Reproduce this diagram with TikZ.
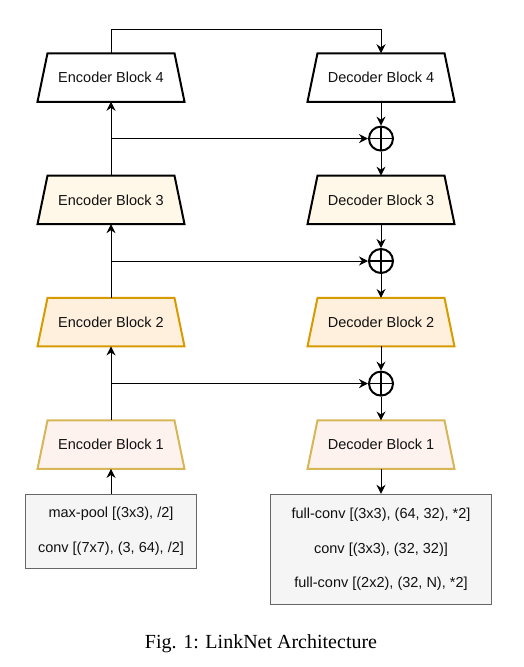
\documentclass[tikz,border=0pt]{standalone}
\usepackage{fontspec}
\setmainfont{Liberation Serif}
\newfontfamily\arialf{Liberation Sans}
\usetikzlibrary{arrows.meta}
\pgfdeclarelayer{background}
\pgfsetlayers{background,main}
\definecolor{fillthree}{HTML}{FFF8E8}
\definecolor{filltwo}{HTML}{FFF0DE}
\definecolor{drawtwo}{HTML}{D79B00}
\definecolor{fillone}{HTML}{FDF2EE}
\definecolor{drawone}{HTML}{D6B656}
\definecolor{boxfill}{HTML}{F5F5F5}
\definecolor{boxdraw}{HTML}{666666}
\definecolor{txt}{HTML}{111111}
\begin{document}
\begin{tikzpicture}[x=1pt,y=-1pt,
  blk/.style={rectangle, minimum width=125pt, minimum height=46.5pt,
    inner sep=0pt, outer sep=1pt, text=txt,
    font=\arialf\fontsize{14.5}{17}\selectfont},
  trapline/.style={line width=2pt, line join=miter},
  plusnode/.style={circle, draw, line width=2pt, minimum size=24pt, inner sep=0pt,
    path picture={\draw[line width=1.6pt]
      (path picture bounding box.north) -- (path picture bounding box.south)
      (path picture bounding box.west) -- (path picture bounding box.east);}},
  infobox/.style={draw=boxdraw, fill=boxfill, line width=1pt, align=center,
    inner sep=0pt, text=txt, font=\arialf\fontsize{14.5}{34.8}\selectfont},
  conn/.style={line width=1pt, -{Stealth[length=9pt,width=9pt,inset=3pt]}}
]
\useasboundingbox (0,0) rectangle (524,667);

% encoder
\node[blk] (e1) at (111,444.7) {Encoder Block 1};
\node[blk] (e2) at (111,322.2) {Encoder Block 2};
\node[blk] (e3) at (111,199.9) {Encoder Block 3};
\node[blk] (e4) at (111,77.5) {Encoder Block 4};

% decoder
\node[blk] (d1) at (381,444.7) {Decoder Block 1};
\node[blk] (d2) at (381,322.2) {Decoder Block 2};
\node[blk] (d3) at (381,199.9) {Decoder Block 3};
\node[blk] (d4) at (381,77.5) {Decoder Block 4};

% trapezoid outlines behind the labels
\begin{pgfonlayer}{background}
\foreach \n/\f/\d in {e1/fillone/drawone, e2/filltwo/drawtwo, e3/fillthree/black, e4/white/black,
                      d1/fillone/drawone, d2/filltwo/drawtwo, d3/fillthree/black, d4/white/black}{
  \draw[trapline, fill=\f, draw=\d] ([xshift=-10pt]\n.south west) -- (\n.north west)
    -- (\n.north east) -- ([xshift=10pt]\n.south east) -- cycle;
}
\end{pgfonlayer}

% adders
\node[plusnode] (p1) at (381,383.6) {};
\node[plusnode] (p2) at (381,261) {};
\node[plusnode] (p3) at (381,138.6) {};

% boxes
\node[infobox, minimum width=171pt, minimum height=74pt] (inb) at (111,531.3)
  {max-pool [(3x3), /2]\\conv [(7x7), (3, 64), /2]};
\node[infobox, minimum width=220.4pt, minimum height=110pt] (outb) at (381,549.3)
  {full-conv [(3x3), (64, 32), *2]\\conv [(3x3), (32, 32)]\\full-conv [(2x2), (32, N), *2]};

% caption
\node[font=\fontsize{20}{22}\selectfont] (cap) at (261,643.5) {Fig. 1: LinkNet Architecture};

% encoder path
\draw[conn] (inb) -- (e1);
\draw[conn] (e1) -- (e2);
\draw[conn] (e2) -- (e3);
\draw[conn] (e3) -- (e4);

% skip connections
\coordinate (b1) at (e1.north |- p1);
\coordinate (b2) at (e2.north |- p2);
\coordinate (b3) at (e3.north |- p3);
\draw[conn] (b1) -- (p1);
\draw[conn] (b2) -- (p2);
\draw[conn] (b3) -- (p3);

% top link
\coordinate (tl) at (111,29.3);
\coordinate (tr) at (381,29.3);
\draw[conn] (e4.north) -- (tl) -- (tr) -- (d4.north);

% decoder path
\draw[conn] (d4) -- (p3);
\draw[conn] (p3) -- (d3);
\draw[conn] (d3) -- (p2);
\draw[conn] (p2) -- (d2);
\draw[conn] (d2) -- (p1);
\draw[conn] (p1) -- (d1);
\draw[conn] (d1) -- (outb);
\end{tikzpicture}
\end{document}
